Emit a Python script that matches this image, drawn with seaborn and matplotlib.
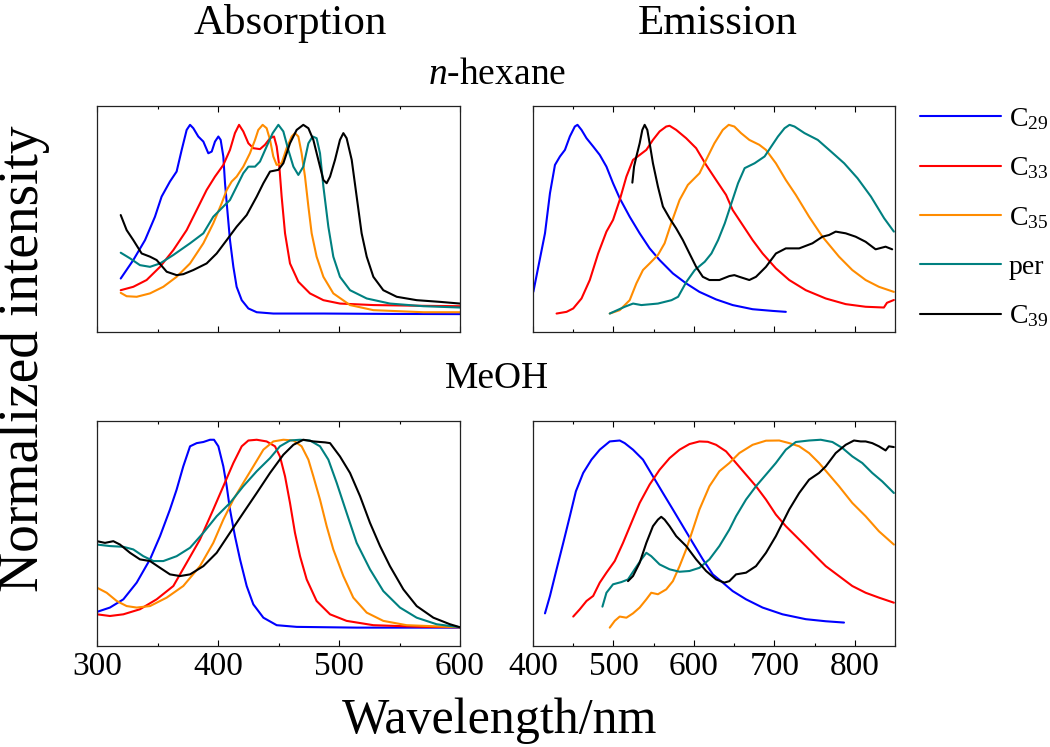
import numpy as np
import pandas as pd
import matplotlib
matplotlib.use("Agg")
import matplotlib.pyplot as plt
from matplotlib.ticker import MultipleLocator
from matplotlib.lines import Line2D
import seaborn as sns

sns.set_style("ticks")
plt.rcParams['font.family'] = ['Liberation Serif', 'DejaVu Serif']
plt.rcParams['mathtext.fontset'] = 'custom'
plt.rcParams['mathtext.rm'] = 'Liberation Serif'
plt.rcParams['mathtext.it'] = 'Liberation Serif:italic'
plt.rcParams['text.color'] = 'black'
plt.rcParams['xtick.color'] = 'black'
plt.rcParams['axes.edgecolor'] = 'black'

dyes = ['C29', 'C33', 'C35', 'per', 'C39']
legend_labels = ['C$_{29}$', 'C$_{33}$', 'C$_{35}$', 'per', 'C$_{39}$']
colors = ['#0000ff', '#ff0000', '#ff8c00', '#008080', '#000000']

# ---- absorption, n-hexane ----
hex_abs_c29_x = [319.6, 330.0, 339.7, 347.9, 353.4, 360.3, 365.8, 370.0, 374.1, 376.9, 379.6, 383.7, 387.9,
                 392.0, 394.8, 397.5, 400.3, 402.2, 404.4, 405.8, 407.7, 409.9, 412.7, 415.4, 419.6, 425.1,
                 432.0, 445.7, 487.1, 542.1, 600.0]
hex_abs_c29_y = [0.184, 0.282, 0.388, 0.512, 0.619, 0.699, 0.752, 0.867, 0.973, 1.0, 0.982, 0.938, 0.911,
                 0.849, 0.858, 0.911, 0.938, 0.920, 0.832, 0.690, 0.548, 0.388, 0.246, 0.140, 0.069, 0.025,
                 0.005, -0.002, -0.002, -0.004, -0.005]
hex_abs_c33_x = [319.6, 330.0, 341.0, 352.1, 363.1, 374.1, 382.4, 390.6, 397.5, 404.4, 409.9, 414.0, 417.4,
                 420.9, 425.1, 429.2, 434.7, 438.8, 443.0, 446.3, 448.5, 450.7, 452.6, 455.4, 459.5, 466.4,
                 476.0, 487.1, 500.8, 528.4, 569.7, 600.0]
hex_abs_c33_y = [0.122, 0.140, 0.176, 0.246, 0.335, 0.441, 0.548, 0.654, 0.725, 0.787, 0.867, 0.956, 1.0,
                 0.965, 0.902, 0.876, 0.871, 0.894, 0.929, 0.938, 0.885, 0.778, 0.619, 0.424, 0.264, 0.167,
                 0.105, 0.069, 0.051, 0.043, 0.039, 0.037]
hex_abs_c35_x = [319.6, 324.5, 332.8, 343.8, 354.8, 365.8, 376.9, 387.9, 396.1, 403.0, 407.2, 411.3, 415.4,
                 420.9, 426.4, 430.6, 433.3, 436.9, 440.2, 443.0, 445.7, 448.5, 452.6, 456.7, 460.9, 463.6,
                 466.4, 469.1, 471.9, 474.7, 477.4, 481.5, 487.1, 495.3, 509.1, 528.4, 569.7, 600.0]
hex_abs_c35_y = [0.108, 0.090, 0.087, 0.105, 0.140, 0.193, 0.264, 0.371, 0.477, 0.583, 0.654, 0.699, 0.725,
                 0.778, 0.849, 0.920, 0.973, 1.0, 0.982, 0.920, 0.832, 0.787, 0.796, 0.876, 0.938, 0.956,
                 0.938, 0.849, 0.725, 0.566, 0.424, 0.300, 0.193, 0.105, 0.043, 0.016, 0.005, 0.005]
hex_abs_per_x = [319.6, 327.3, 335.5, 343.8, 352.1, 363.1, 376.9, 387.9, 396.1, 404.4, 409.9, 415.4, 420.9,
                 425.1, 430.6, 434.7, 440.2, 445.2, 449.9, 454.0, 458.1, 462.3, 466.4, 470.5, 474.7, 478.2,
                 481.5, 484.3, 487.1, 491.2, 495.3, 500.8, 509.1, 522.9, 542.1, 569.7, 600.0]
hex_abs_per_y = [0.321, 0.291, 0.255, 0.246, 0.264, 0.309, 0.371, 0.424, 0.512, 0.566, 0.601, 0.672, 0.743,
                 0.778, 0.778, 0.805, 0.885, 0.956, 1.0, 0.965, 0.867, 0.778, 0.734, 0.778, 0.902, 0.938,
                 0.929, 0.849, 0.672, 0.459, 0.300, 0.193, 0.122, 0.078, 0.051, 0.037, 0.030]
hex_abs_c39_x = [319.6, 324.5, 330.0, 336.9, 343.8, 349.3, 357.6, 365.8, 371.3, 379.6, 390.6, 398.9, 407.2,
                 415.4, 423.7, 432.0, 437.5, 443.0, 449.9, 454.0, 459.5, 465.0, 470.5, 474.7, 478.8, 482.9,
                 487.1, 489.8, 492.6, 496.7, 500.8, 503.6, 506.3, 510.5, 514.6, 518.7, 522.9, 528.4, 536.6,
                 547.7, 564.2, 583.5, 600.0]
hex_abs_c39_y = [0.521, 0.441, 0.388, 0.317, 0.300, 0.282, 0.220, 0.202, 0.207, 0.229, 0.264, 0.317, 0.388,
                 0.459, 0.521, 0.619, 0.690, 0.752, 0.761, 0.796, 0.902, 0.973, 1.0, 0.982, 0.920, 0.814,
                 0.707, 0.690, 0.725, 0.814, 0.920, 0.956, 0.929, 0.814, 0.619, 0.424, 0.300, 0.193, 0.122,
                 0.087, 0.069, 0.060, 0.051]

# ---- emission, n-hexane ----
hex_em_c29_x = [400.4, 406.6, 414.9, 421.1, 427.3, 433.5, 439.7, 445.8, 452.0, 455.3, 460.3, 466.5, 474.8,
                483.0, 491.3, 499.5, 507.8, 520.2, 532.6, 545.0, 557.4, 573.9, 590.4, 606.9, 627.6, 648.2,
                673.0, 697.8, 714.3]
hex_em_c29_y = [0.113, 0.246, 0.424, 0.637, 0.787, 0.832, 0.867, 0.938, 0.991, 1.0, 0.973, 0.929, 0.885,
                0.840, 0.778, 0.690, 0.610, 0.512, 0.424, 0.344, 0.282, 0.211, 0.158, 0.113, 0.073, 0.043,
                0.021, 0.012, 0.007]
hex_em_c33_x = [429.3, 441.7, 450.0, 460.3, 470.6, 481.0, 491.3, 499.5, 507.8, 516.1, 524.3, 532.6, 540.9,
                549.1, 557.4, 565.6, 569.8, 578.0, 590.4, 602.8, 615.2, 627.6, 640.0, 648.2, 660.6, 673.0,
                685.4, 701.9, 718.5, 739.1, 763.9, 788.7, 813.5, 836.2, 840.0, 848.6]
hex_em_c33_y = [-0.002, 0.007, 0.025, 0.078, 0.176, 0.317, 0.433, 0.495, 0.601, 0.725, 0.814, 0.840, 0.867,
                0.920, 0.965, 0.991, 0.995, 0.973, 0.929, 0.876, 0.787, 0.707, 0.628, 0.548, 0.468, 0.388,
                0.317, 0.238, 0.176, 0.122, 0.078, 0.048, 0.034, 0.030, 0.055, 0.070]
hex_em_c35_x = [495.4, 507.8, 520.2, 528.5, 536.7, 545.0, 555.3, 563.6, 571.8, 582.2, 592.5, 607.0, 615.2,
                625.5, 635.9, 643.3, 650.3, 658.6, 668.9, 681.3, 689.6, 701.9, 714.3, 726.7, 743.2, 759.8,
                780.4, 796.9, 813.5, 830.0, 848.6]
hex_em_c35_y = [-0.002, 0.016, 0.069, 0.158, 0.229, 0.264, 0.309, 0.371, 0.477, 0.601, 0.681, 0.743, 0.814,
                0.902, 0.973, 1.0, 0.991, 0.956, 0.920, 0.894, 0.867, 0.796, 0.707, 0.628, 0.512, 0.406,
                0.300, 0.229, 0.176, 0.140, 0.113]
hex_em_per_x = [495.4, 514.1, 524.4, 534.7, 555.3, 572.2, 580.4, 590.8, 601.1, 613.5, 621.8, 630.1, 638.4,
                646.6, 654.9, 663.1, 675.5, 687.9, 696.2, 704.5, 712.7, 718.9, 725.1, 737.5, 754.0, 770.5,
                786.8, 803.5, 820.1, 836.5, 848.6]
hex_em_per_y = [-0.002, 0.034, 0.051, 0.043, 0.051, 0.069, 0.087, 0.167, 0.229, 0.273, 0.317, 0.388, 0.477,
                0.583, 0.690, 0.770, 0.796, 0.832, 0.885, 0.938, 0.982, 1.0, 0.991, 0.956, 0.920, 0.858,
                0.796, 0.716, 0.619, 0.504, 0.433]
hex_em_c39_x = [523.5, 525.6, 528.5, 532.6, 535.9, 538.8, 542.1, 545.0, 549.1, 555.3, 561.5, 569.8, 578.0,
                586.3, 594.5, 602.8, 611.1, 619.3, 631.7, 644.1, 650.3, 656.5, 668.9, 677.2, 689.6, 702.0,
                714.3, 730.9, 747.4, 759.8, 768.0, 776.3, 788.7, 801.1, 813.5, 825.9, 838.3, 846.5]
hex_em_c39_y = [0.693, 0.778, 0.832, 0.902, 0.973, 1.0, 0.973, 0.902, 0.796, 0.672, 0.566, 0.504, 0.450,
                0.388, 0.317, 0.246, 0.193, 0.176, 0.176, 0.197, 0.202, 0.193, 0.176, 0.193, 0.246, 0.317,
                0.344, 0.344, 0.371, 0.406, 0.415, 0.433, 0.424, 0.406, 0.379, 0.339, 0.353, 0.339]

# ---- absorption, MeOH ----
meoh_abs_c29_x = [300.0, 310.7, 321.8, 332.8, 343.8, 352.1, 360.3, 365.8, 371.3, 376.9, 382.4, 387.9, 393.4,
                  396.7, 400.3, 404.4, 407.2, 409.9, 414.0, 418.2, 423.7, 429.2, 437.5, 448.5, 465.0, 514.6,
                  600.0]
meoh_abs_c29_y = [0.082, 0.105, 0.149, 0.238, 0.362, 0.486, 0.628, 0.734, 0.858, 0.965, 0.982, 0.988, 1.0,
                  1.0, 0.965, 0.858, 0.752, 0.628, 0.486, 0.362, 0.220, 0.122, 0.051, 0.011, 0.002, -0.002,
                  -0.002]
meoh_abs_c33_x = [300.0, 310.7, 321.8, 335.5, 349.3, 363.1, 374.1, 385.1, 396.1, 404.4, 412.7, 419.6, 425.1,
                  432.0, 440.2, 447.1, 451.2, 455.4, 459.5, 463.6, 467.8, 473.3, 481.5, 492.6, 506.3, 528.4,
                  569.7, 600.0]
meoh_abs_c33_y = [0.069, 0.060, 0.069, 0.096, 0.149, 0.220, 0.344, 0.468, 0.628, 0.752, 0.876, 0.965, 0.996,
                  1.0, 0.991, 0.965, 0.911, 0.805, 0.663, 0.504, 0.379, 0.255, 0.140, 0.069, 0.034, 0.011,
                  0.002, 0.0]
meoh_abs_c35_x = [300.0, 308.0, 316.3, 324.5, 332.8, 343.8, 357.6, 371.3, 385.1, 396.1, 404.4, 412.7, 420.9,
                  429.2, 437.5, 445.7, 454.0, 462.3, 469.1, 474.7, 478.8, 484.3, 489.8, 495.3, 503.6, 511.8,
                  522.9, 536.6, 555.9, 600.0]
meoh_abs_c35_y = [0.211, 0.184, 0.140, 0.113, 0.105, 0.113, 0.158, 0.220, 0.326, 0.450, 0.574, 0.681, 0.770,
                  0.858, 0.947, 0.991, 1.0, 0.996, 0.965, 0.894, 0.805, 0.681, 0.539, 0.415, 0.273, 0.158,
                  0.078, 0.034, 0.011, 0.0]
meoh_abs_per_x = [300.0, 310.7, 321.8, 330.0, 338.3, 346.6, 354.8, 365.8, 376.9, 387.9, 398.9, 409.9, 420.9,
                  432.0, 443.0, 451.2, 459.5, 467.8, 476.0, 484.3, 491.2, 498.1, 506.3, 514.6, 525.6, 536.6,
                  550.4, 564.2, 580.7, 600.0]
meoh_abs_per_y = [0.441, 0.433, 0.429, 0.415, 0.379, 0.353, 0.353, 0.379, 0.424, 0.504, 0.592, 0.663, 0.752,
                  0.832, 0.902, 0.965, 0.996, 1.0, 0.996, 0.965, 0.894, 0.770, 0.610, 0.450, 0.309, 0.193,
                  0.105, 0.051, 0.016, 0.0]
meoh_abs_c39_x = [300.0, 306.6, 313.5, 319.0, 327.3, 335.5, 343.8, 352.1, 360.3, 368.6, 376.9, 387.9, 398.9,
                  409.9, 420.9, 432.0, 443.0, 454.0, 462.3, 470.5, 478.8, 488.4, 492.6, 500.8, 509.1, 517.4,
                  525.6, 533.9, 542.1, 553.2, 564.2, 578.0, 591.7, 600.0]
meoh_abs_c39_y = [0.459, 0.450, 0.459, 0.441, 0.397, 0.362, 0.353, 0.317, 0.282, 0.273, 0.282, 0.326, 0.397,
                  0.504, 0.610, 0.716, 0.823, 0.920, 0.973, 1.0, 0.991, 0.986, 0.982, 0.911, 0.823, 0.699,
                  0.557, 0.433, 0.326, 0.202, 0.113, 0.051, 0.016, 0.0]

# ---- emission, MeOH ----
meoh_em_c29_x = [414.9, 421.1, 429.3, 437.6, 445.8, 453.3, 462.4, 472.7, 483.0, 495.4, 507.8, 514.0, 524.3,
                 536.7, 549.1, 561.5, 573.9, 586.3, 598.7, 611.1, 623.5, 635.9, 648.2, 664.8, 685.4, 710.2,
                 739.1, 763.9, 786.6]
meoh_em_c29_y = [0.074, 0.167, 0.309, 0.450, 0.592, 0.725, 0.823, 0.894, 0.947, 0.991, 0.996, 0.982, 0.947,
                 0.894, 0.805, 0.716, 0.628, 0.539, 0.450, 0.362, 0.282, 0.238, 0.193, 0.149, 0.105, 0.069,
                 0.043, 0.032, 0.025]
meoh_em_c33_x = [450.0, 458.2, 466.5, 474.8, 483.0, 491.3, 501.6, 511.9, 522.3, 532.6, 545.0, 557.4, 569.8,
                 582.2, 594.5, 606.9, 617.3, 627.6, 640.0, 652.4, 664.8, 677.2, 689.6, 701.9, 714.3, 726.7,
                 739.1, 751.5, 763.9, 780.4, 796.9, 813.5, 830.0, 848.6]
meoh_em_c33_y = [0.057, 0.096, 0.140, 0.167, 0.238, 0.291, 0.353, 0.450, 0.557, 0.663, 0.761, 0.840, 0.902,
                 0.947, 0.977, 0.991, 0.989, 0.973, 0.938, 0.876, 0.814, 0.752, 0.681, 0.601, 0.539, 0.486,
                 0.433, 0.379, 0.326, 0.273, 0.220, 0.184, 0.158, 0.131]
meoh_em_c35_x = [495.4, 501.6, 507.8, 516.1, 524.3, 532.6, 540.9, 547.0, 555.3, 565.6, 573.9, 582.2, 590.4,
                 598.7, 606.9, 619.3, 631.7, 644.1, 656.5, 673.0, 689.6, 706.1, 718.5, 730.9, 743.2, 755.6,
                 768.0, 780.4, 796.9, 813.5, 830.0, 848.6]
meoh_em_c35_y = [-0.002, 0.034, 0.057, 0.051, 0.074, 0.105, 0.149, 0.184, 0.176, 0.202, 0.246, 0.326, 0.415,
                 0.521, 0.628, 0.752, 0.832, 0.876, 0.929, 0.973, 0.995, 0.996, 0.982, 0.965, 0.929, 0.876,
                 0.814, 0.752, 0.663, 0.592, 0.512, 0.441]
meoh_em_per_x = [486.3, 491.3, 499.5, 509.9, 518.1, 526.4, 534.7, 540.9, 547.0, 557.4, 569.8, 582.2, 594.5,
                 606.9, 619.3, 631.7, 644.1, 652.4, 664.8, 677.2, 689.6, 701.9, 714.3, 726.7, 743.2, 757.7,
                 772.2, 784.6, 797.0, 809.3, 821.7, 834.1, 848.6]
meoh_em_per_y = [0.110, 0.184, 0.229, 0.241, 0.255, 0.309, 0.362, 0.397, 0.379, 0.335, 0.309, 0.296, 0.300,
                 0.317, 0.362, 0.433, 0.521, 0.592, 0.681, 0.752, 0.814, 0.876, 0.947, 0.988, 0.996, 1.0,
                 0.988, 0.956, 0.911, 0.876, 0.823, 0.778, 0.716]
meoh_em_c39_x = [518.1, 524.3, 532.6, 540.9, 549.1, 555.3, 559.4, 563.6, 569.8, 578.0, 590.4, 602.8, 615.2,
                 627.6, 637.9, 644.1, 652.4, 664.8, 677.2, 689.6, 701.9, 710.2, 718.5, 730.9, 743.2, 755.6,
                 763.9, 776.3, 788.7, 799.0, 807.3, 813.5, 821.7, 830.0, 838.3, 842.4, 848.6]
meoh_em_c39_y = [0.246, 0.273, 0.344, 0.450, 0.539, 0.574, 0.589, 0.574, 0.539, 0.486, 0.433, 0.362, 0.300,
                 0.255, 0.238, 0.246, 0.282, 0.291, 0.326, 0.397, 0.486, 0.557, 0.628, 0.716, 0.787, 0.823,
                 0.858, 0.929, 0.973, 0.996, 0.991, 0.991, 0.982, 0.965, 0.943, 0.965, 0.961]


def panel_frame(series):
    parts = []
    for dye, (x, y) in zip(dyes, series):
        parts.append(pd.DataFrame({'wl': x, 'I': y, 'dye': dye}))
    return pd.concat(parts, ignore_index=True)


panels = {
    'hex_abs': panel_frame([(hex_abs_c29_x, hex_abs_c29_y), (hex_abs_c33_x, hex_abs_c33_y),
                            (hex_abs_c35_x, hex_abs_c35_y), (hex_abs_per_x, hex_abs_per_y),
                            (hex_abs_c39_x, hex_abs_c39_y)]),
    'hex_em': panel_frame([(hex_em_c29_x, hex_em_c29_y), (hex_em_c33_x, hex_em_c33_y),
                           (hex_em_c35_x, hex_em_c35_y), (hex_em_per_x, hex_em_per_y),
                           (hex_em_c39_x, hex_em_c39_y)]),
    'meoh_abs': panel_frame([(meoh_abs_c29_x, meoh_abs_c29_y), (meoh_abs_c33_x, meoh_abs_c33_y),
                             (meoh_abs_c35_x, meoh_abs_c35_y), (meoh_abs_per_x, meoh_abs_per_y),
                             (meoh_abs_c39_x, meoh_abs_c39_y)]),
    'meoh_em': panel_frame([(meoh_em_c29_x, meoh_em_c29_y), (meoh_em_c33_x, meoh_em_c33_y),
                            (meoh_em_c35_x, meoh_em_c35_y), (meoh_em_per_x, meoh_em_per_y),
                            (meoh_em_c39_x, meoh_em_c39_y)]),
}

W, H = 1050, 747
fig = plt.figure(figsize=(W / 100, H / 100), dpi=100)


def px_axes(x0, y0, x1, y1):
    return fig.add_axes([x0 / W, 1 - y1 / H, (x1 - x0) / W, (y1 - y0) / H])


layout = {
    'hex_abs': (97, 106, 460, 332, (300, 600), False),
    'hex_em': (533, 106, 895, 332, (400, 850), False),
    'meoh_abs': (97, 421, 460, 646, (300, 600), True),
    'meoh_em': (533, 421, 895, 646, (400, 850), True),
}

palette = dict(zip(dyes, colors))
for key, (x0, y0, x1, y1, xlim, show_labels) in layout.items():
    ax = px_axes(x0, y0, x1, y1)
    sns.lineplot(data=panels[key], x='wl', y='I', hue='dye', palette=palette,
                 estimator=None, sort=False, legend=False, linewidth=1.5, ax=ax)
    ax.set_xlim(*xlim)
    ax.set_ylim(-0.1, 1.1)
    ax.set_xlabel('')
    ax.set_ylabel('')
    ax.xaxis.set_major_locator(MultipleLocator(100))
    ax.xaxis.set_minor_locator(MultipleLocator(50))
    ax.tick_params(axis='x', which='both', direction='in', top=True, bottom=True,
                   labelbottom=show_labels, labelsize=24, pad=4, width=0.8, colors='black')
    ax.tick_params(axis='x', which='major', length=4)
    ax.tick_params(axis='x', which='minor', length=2.5)
    ax.tick_params(axis='y', left=False, labelleft=False)
    for sp in ax.spines.values():
        sp.set_linewidth(0.9)
        sp.set_color('#222222')

fig.text(290 / W, 1 - 34 / H, 'Absorption', ha='center', va='baseline', fontsize=31)
fig.text(718 / W, 1 - 34 / H, 'Emission', ha='center', va='baseline', fontsize=31)
fig.text(497 / W, 1 - 84 / H, '$n$-hexane', ha='center', va='baseline', fontsize=27)
fig.text(497 / W, 1 - 388 / H, 'MeOH', ha='center', va='baseline', fontsize=27)
fig.text(500 / W, 1 - 733 / H, 'Wavelength/nm', ha='center', va='baseline', fontsize=36)
fig.text(24 / W, 1 - 592 / H, 'Normalized intensity', rotation=90, ha='center', va='bottom', fontsize=40)

handles = [Line2D([], [], color=c, linewidth=1.5) for c in colors]
fig.legend(handles, legend_labels, loc='upper left', bbox_to_anchor=(920 / W, 1 - 106 / H),
           frameon=False, fontsize=20, handlelength=2.9, handletextpad=0.3, labelspacing=0.85,
           borderaxespad=0, borderpad=0)

fig.savefig('out.png', dpi=100)
